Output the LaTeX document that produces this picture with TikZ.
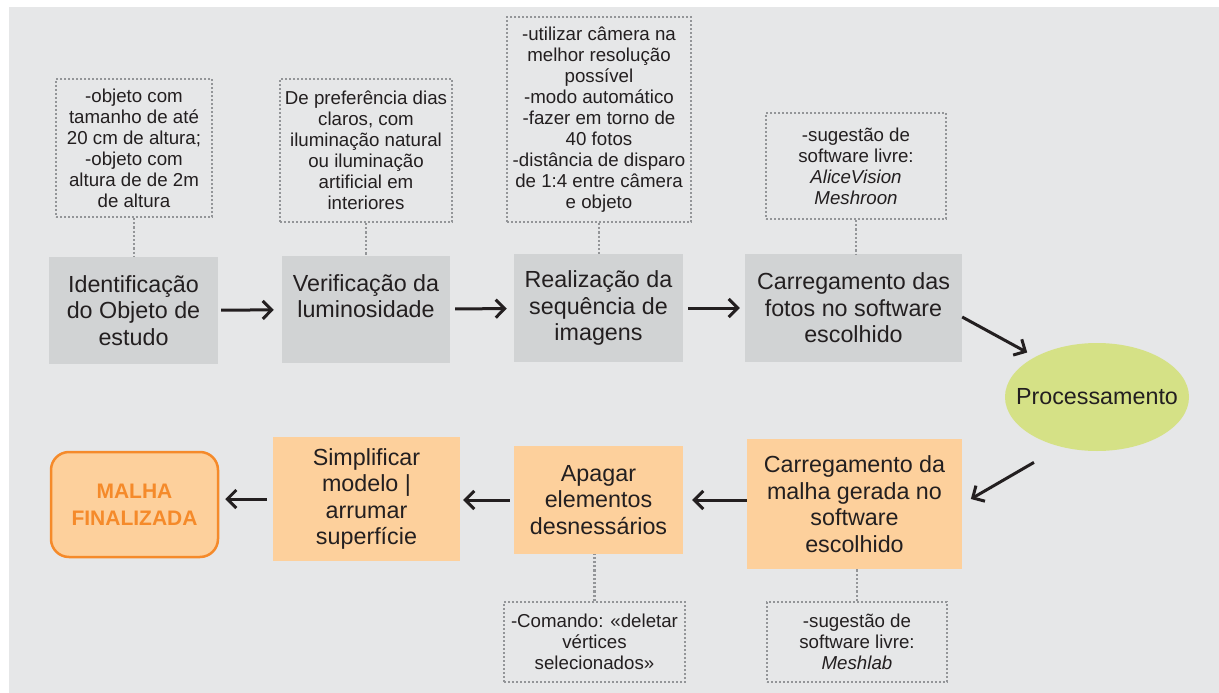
\documentclass[tikz,border=0pt]{standalone}
\usepackage{fontspec}
\setmainfont{Liberation Sans}
\usetikzlibrary{arrows.meta,shapes.geometric}
\definecolor{bg}{HTML}{E6E7E8}
\definecolor{boxgray}{HTML}{D1D3D4}
\definecolor{boxorange}{HTML}{FDD09C}
\definecolor{ellgreen}{HTML}{D5E186}
\definecolor{finorange}{HTML}{F58A2A}
\definecolor{txt}{HTML}{231F20}
\definecolor{dotgray}{HTML}{939598}
\newcommand\bxfont{\fontsize{23.3}{26.5}\selectfont}
\newcommand\ntfont{\fontsize{18.7}{21}\selectfont}
\newcommand\fnfont{\fontsize{21}{27}\selectfont\bfseries}
\tikzset{
  gbox/.style={fill=boxgray, inner sep=0pt, align=center, font=\bxfont, text=txt},
  obox/.style={fill=boxorange, inner sep=0pt, align=center, font=\bxfont, text=txt},
  finbox/.style={fill=boxorange, draw=finorange, line width=2.5pt, rounded corners=18pt, inner sep=0pt, align=center, font=\fnfont, text=finorange},
  ellnode/.style={ellipse, fill=ellgreen, inner sep=0pt, font=\bxfont, text=txt},
  notebox/.style={draw=dotgray, line width=2pt, dash pattern=on 2pt off 2pt, inner sep=0pt, align=center, font=\ntfont, text=txt},
  link/.style={draw=dotgray, line width=2.2pt, dash pattern=on 2.2pt off 2pt},
  arr/.style={draw=txt, line width=3pt, -{Straight Barb[length=9pt,width=18pt,line width=3pt]}},
}
\begin{document}
\begin{tikzpicture}[x=1pt,y=-1pt]
\useasboundingbox (0,0) rectangle (1219,693);
\fill[bg] (9,7) rectangle (1219,693);

% top row boxes
\node[gbox, minimum width=169pt, minimum height=107pt] (b1) at (133.5,310.5) {Identificação\\do Objeto de\\estudo};
\node[gbox, minimum width=168pt, minimum height=107pt] (b2) at (366,309.5) {Verificação da\\luminosidade\\\mbox{}};
\node[gbox, minimum width=169pt, minimum height=108pt] (b3) at (598.5,308) {Realização da\\sequência de\\imagens};
\node[gbox, minimum width=217pt, minimum height=108pt] (b4) at (853.5,308) {Carregamento das\\fotos no software\\escolhido};

% ellipse
\node[ellnode, minimum width=184pt, minimum height=108pt] (ell) at (1097,397) {\makebox[0pt]{Processamento}};

% bottom row boxes
\node[obox, minimum width=215pt, minimum height=130pt] (b5) at (854.5,504) {Carregamento da\\malha gerada no\\software\\escolhido};
\node[obox, minimum width=169pt, minimum height=108pt] (b6) at (598.5,500) {Apagar\\elementos\\desnessários};
\node[obox, minimum width=187pt, minimum height=124pt] (b7) at (366.5,499) {Simplificar\\modelo |\\arrumar\\superfície};
\node[finbox, minimum width=167pt, minimum height=105pt] (fin) at (134.5,504.5) {MALHA\\FINALIZADA};

% notes
\node[notebox, minimum width=156pt, minimum height=138pt] (n1) at (134,148) {-objeto com\\tamanho de até\\20 cm de altura;\\-objeto com\\altura de de 2m\\de altura};
\node[notebox, minimum width=172pt, minimum height=143pt] (n2) at (366,150.5) {De preferência dias\\claros, com\\iluminação natural\\ou iluminação\\artificial em\\interiores};
\node[notebox, minimum width=184pt, minimum height=205pt] (n3) at (599,119.5) {-utilizar câmera na\\melhor resolução\\possível\\-modo automático\\-fazer em torno de\\40 fotos\\-distância de disparo\\de 1:4 entre câmera\\e objeto};
\node[notebox, minimum width=180pt, minimum height=106pt] (n4) at (856,166) {-sugestão de\\software livre:\\\textit{AliceVision}\\\textit{Meshroon}};
\node[notebox, minimum width=181pt, minimum height=80pt] (n6) at (594.5,642) {-Comando: «deletar\\vértices\\selecionados»};
\node[notebox, minimum width=180pt, minimum height=80pt] (n5) at (857,642) {-sugestão de\\software livre:\\\textit{Meshlab}};

% dotted links
\draw[link] (n1.south) -- (n1.south |- b1.north);
\draw[link] (n2.south) -- (n2.south |- b2.north);
\draw[link] (n3.south) -- (n3.south |- b3.north);
\draw[link] (n4.south) -- (n4.south |- b4.north);
\draw[link] (n6.north) -- (n6.north |- b6.south);
\draw[link] (n5.north) -- (n5.north |- b5.south);

% arrows
\draw[arr, shorten <=3pt, shorten >=8pt] (b1) -- (b2);
\draw[arr, shorten <=5pt, shorten >=7pt] (b2) -- (b3);
\draw[arr, shorten <=5pt, shorten >=5pt] (b3) -- (b4);
\draw[arr, shorten >=9pt] ([yshift=-9pt]b4.east) -- (ell.147);
\draw[arr, shorten <=31pt, shorten >=10pt] (ell.234) -- (b5.east);
\draw[arr, shorten >=9pt] (b5.west |- b6.east) -- (b6.east);
\draw[arr, shorten <=4pt, shorten >=3pt] (b6.west) -- (b6.west -| b7.east);
\draw[arr, shorten <=6pt, shorten >=6pt] (b7.west) -- (b7.west -| fin.east);
\end{tikzpicture}
\end{document}
